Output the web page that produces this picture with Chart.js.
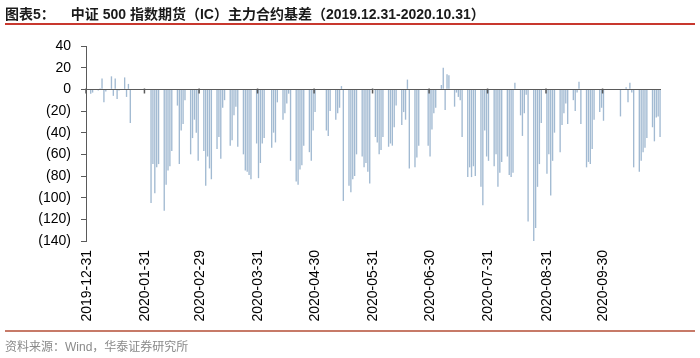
<!DOCTYPE html>
<html>
<head>
<meta charset="utf-8">
<script src="https://cdn.jsdelivr.net/npm/chart.js@4.4.0/dist/chart.umd.min.js"></script>
<style>
  html, body { margin: 0; padding: 0; background: #fff; }
  #wrap { position: relative; width: 700px; height: 358px; overflow: hidden; font-family: "Liberation Sans", "Noto Sans CJK SC", sans-serif; }
  #title { position: absolute; left: 5px; top: 3px; font-size: 14px; font-weight: bold; color: #1a1a1a; white-space: nowrap; }
  #title .gap { display: inline-block; width: 16px; }
  #rule-top { position: absolute; left: 5px; top: 23px; width: 690px; height: 2px; background: #c8382e; }
  #rule-bot { position: absolute; left: 5px; top: 330px; width: 690px; height: 2px; background: #c77a68; }
  #src { position: absolute; left: 5px; top: 337px; font-size: 12px; color: #8a8a8a; white-space: nowrap; }
  canvas { position: absolute; left: 0; top: 0; }
</style>
</head>
<body>
<div id="wrap">
  <canvas id="basis" width="700" height="358" role="img" aria-label="中证500指数期货（IC）主力合约基差，2019.12.31-2020.10.31，日度柱状图"></canvas>
  <div id="title">图表5：<span class="gap"></span>中证 500 指数期货（IC）主力合约基差（2019.12.31-2020.10.31）</div>
  <div id="rule-top"></div>
  <div id="rule-bot"></div>
  <div id="src">资料来源：Wind，华泰证券研究所</div>
</div>
<script>
// tick labels on the x axis (month ends)
const monthEnds = ['2019-12-31', '2020-01-31', '2020-02-29', '2020-03-31', '2020-04-30',
  '2020-05-31', '2020-06-30', '2020-07-31', '2020-08-31', '2020-09-30']

// trading days and basis (index points) per month
const janDays = [2, 3, 6, 7, 8, 9, 10, 13, 14, 15, 16, 17, 20, 21, 22, 23]
const janBasis = [-4, -3, -1, 1, 10, -12, -2, 12, -6, 10, -9, -1, 11, -7, 5, -31]

const febDays = [3, 4, 5, 6, 7, 10, 11, 12, 13, 14, 17, 18, 19, 20, 21, 24, 25, 26, 27, 28]
const febBasis = [-105, -69, -96, -72, -69, -112, -88, -75, -71, -57, -15, -69, -38, -32, -10, -60, -45, -28, -40, -66]

const marDays = [2, 3, 4, 5, 6, 9, 10, 11, 12, 13, 16, 17, 18, 19, 20, 23, 24, 25, 26, 27, 30, 31]
const marBasis = [-57, -89, -62, -73, -83, -55, -44, -64, -17, -10, -52, -47, -24, -16, -53, -60, -75, -76, -79, -83, -50, -82]

const aprDays = [1, 2, 3, 7, 8, 9, 10, 13, 14, 15, 16, 17, 20, 21, 22, 23, 24, 27, 28, 29, 30]
const aprBasis = [-68, -50, -45, -54, -40, -49, -12, -28, -22, -13, -4, -66, -85, -88, -74, -70, -52, -58, -66, -38, -21]

const mayDays = [6, 7, 8, 11, 12, 13, 14, 15, 18, 19, 20, 21, 22, 25, 26, 27, 28, 29]
const mayBasis = [-38, -43, -20, -28, -22, -17, 3, -103, -89, -95, -83, -80, -60, -62, -72, -68, -76, -87]

const junDays = [1, 2, 3, 4, 5, 8, 9, 10, 11, 12, 15, 16, 17, 18, 19, 22, 23, 24, 29, 30]
const junBasis = [-44, -49, -60, -56, -44, -53, -50, -52, -35, -15, -33, -21, -28, 9, -73, -72, -63, -52, -52, -62]

const julDays = [1, 2, 3, 6, 7, 8, 9, 10, 13, 14, 15, 16, 17, 20, 21, 22, 23, 24, 27, 28, 29, 30, 31]
const julBasis = [-37, -22, -17, 4, 20, -19, 14, 13, -16, -3, -7, -10, -44, -81, -72, -81, -71, -80, -90, -107, -38, -62, -66]

const augDays = [3, 4, 5, 6, 7, 10, 11, 12, 13, 14, 17, 18, 19, 20, 21, 24, 25, 26, 27, 28, 31]
const augBasis = [-71, -60, -90, -77, -67, -62, -79, -81, -77, 6, -24, -43, -22, -5, -122, -141, -128, -90, -69, -31, -78]

const sepDays = [1, 2, 3, 4, 7, 8, 9, 10, 11, 14, 15, 16, 17, 18, 21, 22, 23, 24, 25, 28, 29, 30]
const sepBasis = [-60, -98, -66, -40, -58, -33, -22, -13, -32, -10, -20, -3, 7, -32, -72, -67, -69, -55, -28, -21, -17, -29]

const octDays = [9, 12, 13, 14, 15, 16, 19, 20, 21, 22, 23, 26, 27, 28, 29, 30]
const octBasis = [-25, 2, -12, 6, -3, -72, -76, -66, -58, -54, -45, -35, -48, -26, -25, -44]

const months = [
  ['2020-01', janDays, janBasis], ['2020-02', febDays, febBasis], ['2020-03', marDays, marBasis],
  ['2020-04', aprDays, aprBasis], ['2020-05', mayDays, mayBasis], ['2020-06', junDays, junBasis],
  ['2020-07', julDays, julBasis], ['2020-08', augDays, augBasis], ['2020-09', sepDays, sepBasis],
  ['2020-10', octDays, octBasis]
]

const pad = n => String(n).padStart(2, '0')

// calendar-day categories, 2019-12-31 .. 2020-10-30
const dayLabels = []
for (let d = new Date(2019, 11, 31); d <= new Date(2020, 9, 30); d.setDate(d.getDate() + 1)) {
  dayLabels.push(`${d.getFullYear()}-${pad(d.getMonth() + 1)}-${pad(d.getDate())}`)
}

const basisByDay = dayLabels.map(() => null)
for (const [ym, days, vals] of months) {
  days.forEach((day, i) => {
    const idx = dayLabels.indexOf(`${ym}-${pad(day)}`)
    if (idx >= 0) basisByDay[idx] = vals[i]
  })
}

const axisColor = '#5a5a5a'

const zeroAxis = {
  id: 'zeroAxis',
  afterDatasetsDraw(chart) {
    const { ctx, chartArea, scales: { x, y } } = chart
    const y0 = Math.round(y.getPixelForValue(0)) + 0.5
    ctx.save()
    ctx.strokeStyle = axisColor
    ctx.lineWidth = 1
    ctx.beginPath()
    ctx.moveTo(chartArea.left, y0)
    ctx.lineTo(chartArea.right, y0)
    ctx.stroke()
    const half = (x.getPixelForValue(1) - x.getPixelForValue(0)) / 2
    ctx.lineWidth = 1.5
    for (const m of monthEnds) {
      const i = dayLabels.indexOf(m)
      if (i < 0) continue
      const px = x.getPixelForValue(i) - half
      ctx.beginPath()
      ctx.moveTo(px, y0 - 1)
      ctx.lineTo(px, y0 + 4)
      ctx.stroke()
    }
    ctx.restore()
  }
}

const tickFont = { family: '"Liberation Sans", Arial, sans-serif', size: 14 }

new Chart(document.getElementById('basis'), {
  type: 'bar',
  data: {
    labels: dayLabels,
    datasets: [{
      label: 'IC主力合约基差',
      data: basisByDay,
      backgroundColor: '#a2bad2',
      barPercentage: 0.72,
      categoryPercentage: 1
    }]
  },
  options: {
    responsive: false,
    animation: false,
    layout: { padding: { left: 0, right: 39, top: 46, bottom: 0 } },
    plugins: { legend: { display: false }, tooltip: { enabled: false } },
    scales: {
      x: {
        grid: { display: false },
        border: { display: false },
        ticks: {
          autoSkip: false,
          minRotation: 90,
          maxRotation: 90,
          padding: 1,
          color: '#000',
          font: tickFont,
          callback: (v, i) => (monthEnds.includes(dayLabels[i]) ? dayLabels[i] : null)
        },
        afterFit: s => { s.height = 117 }
      },
      y: {
        min: -140,
        max: 40,
        ticks: {
          stepSize: 20,
          padding: 10,
          color: '#000',
          font: tickFont,
          callback: v => (v < 0 ? `(${-v})` : `${v}`)
        },
        grid: { drawOnChartArea: false, drawTicks: true, tickLength: 5, tickColor: axisColor },
        border: { display: true, color: axisColor },
        afterFit: s => { s.width = 86 }
      }
    }
  },
  plugins: [zeroAxis]
})
</script>
</body>
</html>
